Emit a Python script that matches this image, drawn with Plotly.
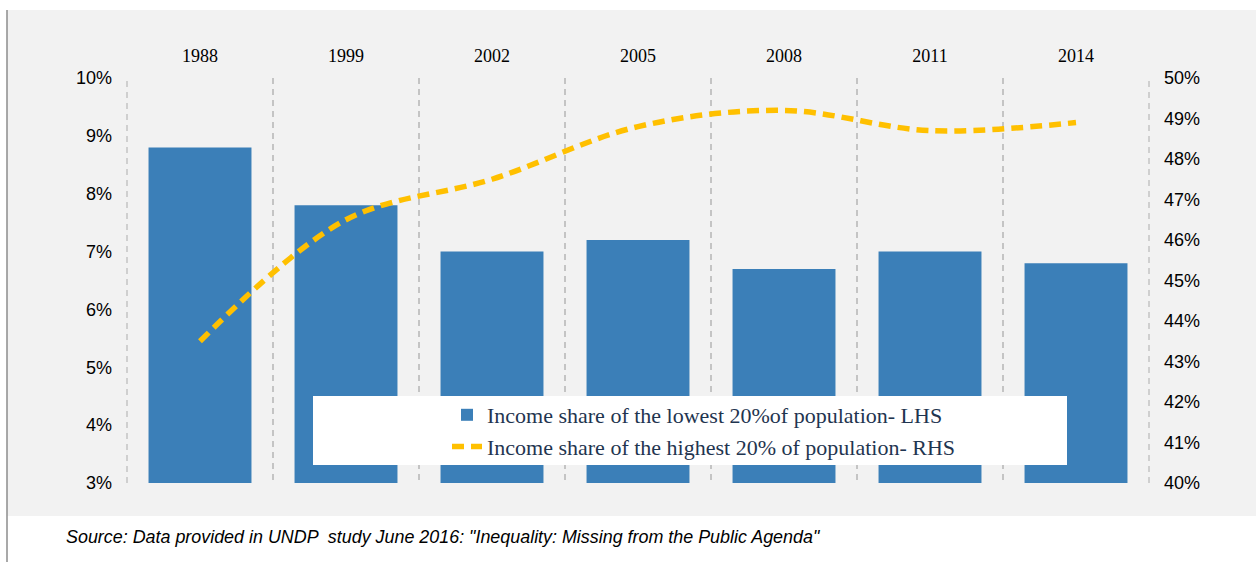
import plotly.graph_objects as go

years = ["1988", "1999", "2002", "2005", "2008", "2011", "2014"]
lowest20 = [8.8, 7.8, 7.0, 7.2, 6.7, 7.0, 6.8]      # % (left axis)
highest20 = [43.5, 46.5, 47.5, 48.8, 49.2, 48.7, 48.9]  # % (right axis)
left_ticks = [3, 4, 5, 6, 7, 8, 9, 10]
right_ticks = [40, 41, 42, 43, 44, 45, 46, 47, 48, 49, 50]

W, H = 1256, 562
L, R, T, B = 127, 107, 78, 79
pw, ph = W - L - R, H - T - B

def px(x):
    return (x - L) / pw

def py(y):
    return (H - B - y) / ph

fig = go.Figure()
fig.add_trace(go.Bar(
    x=years, y=[v - 3 for v in lowest20], base=3,
    name="Income share of the lowest 20%of population- LHS",
    marker=dict(color="#3B7FB8", line=dict(width=0)),
    legendgroup="a", hoverinfo="skip",
))
fig.add_trace(go.Scatter(
    x=years, y=highest20, yaxis="y2", mode="lines",
    name="Income share of the highest 20% of population- RHS",
    line=dict(color="#FFC000", width=5.5, dash="12px,7px", shape="spline", smoothing=1.0),
    legendgroup="b", hoverinfo="skip",
))

grid_line = dict(color="#C4C4C4", width=1.5, dash="6px,5px")
shapes = [
    # grey background panel
    dict(type="rect", xref="paper", yref="paper", x0=px(7), x1=px(W + 5), y0=py(516), y1=py(10),
         fillcolor="#F2F2F2", line=dict(width=0), layer="below"),
    # left border line
    dict(type="line", xref="paper", yref="paper", x0=px(7), x1=px(7), y0=py(10), y1=py(H + 5),
         line=dict(color="#8C8C8C", width=1.5)),
    # dashed separators at the plot edges
    dict(type="line", xref="paper", yref="paper", x0=0, x1=0, y0=0, y1=1, line=grid_line, layer="below"),
    dict(type="line", xref="paper", yref="paper", x0=1, x1=1, y0=0, y1=1, line=grid_line, layer="below"),
    # white legend box
    dict(type="rect", xref="paper", yref="paper", x0=px(313), x1=px(1067), y0=py(465), y1=py(396),
         fillcolor="white", line=dict(width=0), layer="above"),
]

fig.update_layout(
    width=W, height=H,
    margin=dict(l=L, r=R, t=T, b=B),
    paper_bgcolor="white",
    plot_bgcolor="rgba(0,0,0,0)",
    bargap=0.295,
    shapes=shapes,
    showlegend=True,
    legend=dict(
        x=px(447), y=py(394), xanchor="left", yanchor="top",
        bgcolor="rgba(0,0,0,0)", borderwidth=0,
        font=dict(family="Liberation Serif", size=22, color="#1F3550"),
        tracegroupgap=0, itemwidth=30,
    ),
    xaxis=dict(
        type="category", side="top", tickson="boundaries",
        showgrid=True, gridcolor="#C4C4C4", griddash="6px,5px", gridwidth=1.5,
        ticks="", showline=False, zeroline=False,
        tickfont=dict(family="Liberation Serif", size=18, color="#000000"),
        ticklabelstandoff=11,
    ),
    yaxis=dict(
        range=[3, 10], tickvals=left_ticks, ticktext=[f"{v}%" for v in left_ticks],
        showgrid=False, zeroline=False, showline=False, ticks="",
        tickfont=dict(family="Liberation Sans", size=18, color="#000000"),
        ticklabelstandoff=14,
    ),
    yaxis2=dict(
        range=[40, 50], tickvals=right_ticks, ticktext=[f"{v}%" for v in right_ticks],
        overlaying="y", side="right",
        showgrid=False, zeroline=False, showline=False, ticks="",
        tickfont=dict(family="Liberation Sans", size=18, color="#000000"),
        ticklabelstandoff=14,
    ),
    annotations=[dict(
        xref="paper", yref="paper", x=px(64), y=py(537), xanchor="left", yanchor="middle",
        text="<i>Source: Data provided in UNDP  study June 2016: \"Inequality: Missing from the Public Agenda\"</i>",
        showarrow=False, font=dict(family="Liberation Sans", size=17.9, color="#000000"),
    )],
)

fig.write_html("out.html", config={"displayModeBar": False},
               post_script="document.body.style.margin='0';")
